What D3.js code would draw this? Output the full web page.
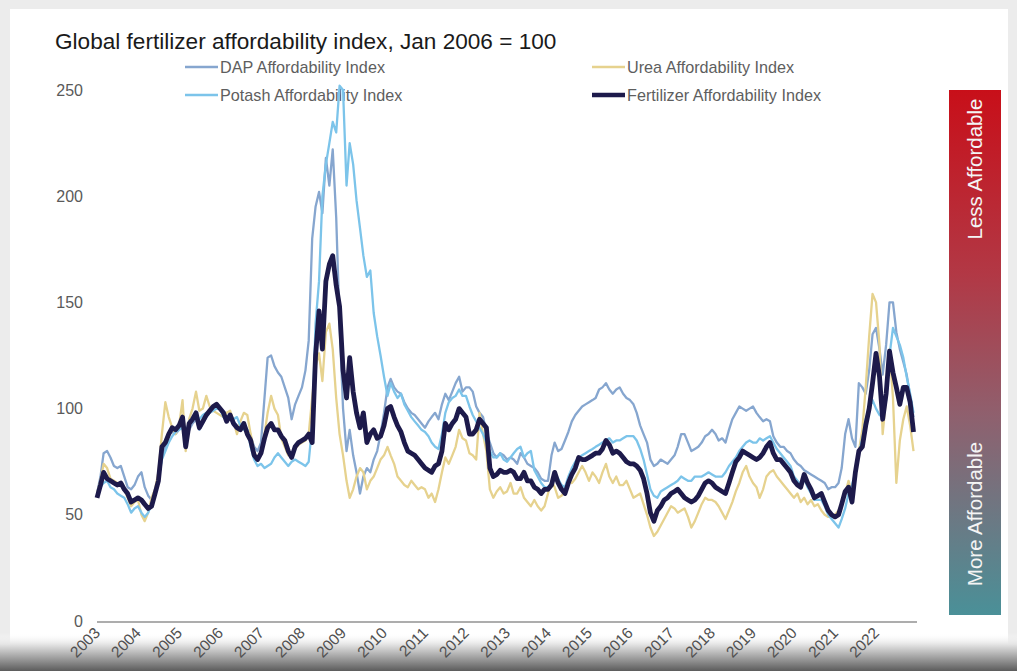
<!DOCTYPE html>
<html>
<head>
<meta charset="utf-8">
<script src="https://cdn.jsdelivr.net/npm/d3@7"></script>
<style>
  body { margin: 0; background: #ececec; }
  svg text { font-family: "Liberation Sans", Arial, sans-serif; }
</style>
</head>
<body>
<svg id="chart" width="1017" height="671"></svg>
<script>
// monthly index values, Jan 2003 .. Dec 2022
var yearLabels = ["2003","2004","2005","2006","2007","2008","2009","2010","2011","2012",
                  "2013","2014","2015","2016","2017","2018","2019","2020","2021","2022"];

var dapIndex = [
  60,68,79,80,77,73,72,73,68,63,62,64,
  68,70,63,59,57,62,66,77,82,88,89,88,
  90,92,84,90,93,95,90,93,96,98,100,100,
  100,97,95,96,94,92,91,93,90,87,82,80,
  84,105,124,125,120,117,115,110,105,95,102,106,
  110,118,132,180,195,202,192,218,205,222,190,140,
  100,80,90,78,70,60,68,72,70,76,80,88,
  98,110,114,110,108,107,103,100,98,97,95,93,
  91,94,96,98,95,102,107,104,108,112,115,108,
  110,110,108,101,98,96,89,84,79,77,79,78,
  76,77,76,74,79,77,74,73,72,70,67,66,
  66,78,84,80,81,85,89,94,97,99,101,102,
  103,104,105,109,110,112,109,107,109,110,107,105,
  104,102,98,92,88,84,76,73,74,76,75,74,
  76,78,82,88,88,84,80,81,82,84,87,88,
  90,88,85,86,84,90,95,98,101,100,99,100,
  101,98,96,94,95,94,87,84,82,82,80,79,
  76,74,73,71,70,69,68,67,66,65,62,63,
  63,65,72,88,95,86,82,112,110,107,118,135,
  138,128,116,130,150,150,136,128,122,116,106,96
];

var ureaIndex = [
  60,66,74,72,67,66,65,64,62,58,54,56,
  57,50,47,51,58,62,70,88,103,96,91,88,
  92,104,80,95,100,108,99,100,106,101,99,98,
  97,96,98,99,94,88,94,98,97,88,80,76,
  80,88,98,106,100,97,86,82,78,78,81,83,
  84,85,88,105,120,126,113,136,140,128,105,88,
  78,66,58,62,68,72,70,62,66,68,72,76,
  78,82,78,74,68,66,64,63,66,64,62,63,
  62,58,60,56,62,70,77,74,78,82,90,86,
  85,79,78,76,98,88,80,62,58,61,63,60,
  61,65,60,60,63,58,56,54,57,54,52,54,
  60,66,63,58,59,61,66,65,67,70,73,70,
  66,70,68,65,70,74,68,65,68,64,64,66,
  62,58,59,60,55,50,44,40,42,45,48,51,
  54,53,51,52,53,49,44,47,51,55,58,57,
  57,56,54,51,48,52,56,61,65,70,73,68,
  65,63,58,62,68,70,71,68,66,64,62,60,
  58,60,56,58,55,57,54,55,52,50,49,50,
  50,52,55,60,66,60,72,80,90,110,134,154,
  150,130,88,105,128,105,65,85,95,101,92,80
];

var potashIndex = [
  60,63,65,66,63,62,60,59,58,55,51,53,
  54,51,49,51,55,60,66,76,80,84,87,89,
  90,91,88,94,95,96,95,97,98,98,99,100,
  100,96,95,95,95,96,92,90,90,82,76,73,
  74,72,73,74,77,79,77,75,73,75,76,75,
  74,73,75,92,140,160,200,215,225,235,230,252,
  250,205,225,215,198,185,172,162,165,145,134,125,
  115,106,112,108,105,107,102,99,96,94,92,90,
  89,87,84,82,81,88,98,103,105,106,109,106,
  106,101,97,94,91,88,84,80,77,77,79,76,
  75,77,79,81,82,77,79,80,71,68,65,63,
  63,65,70,67,64,63,68,72,75,77,78,79,
  80,81,82,83,84,85,86,84,85,85,86,87,
  87,87,85,81,76,69,62,59,58,61,62,63,
  64,65,66,68,67,66,66,68,68,68,69,70,
  69,68,68,68,70,73,75,77,80,82,84,85,
  84,84,86,85,86,87,84,81,79,77,75,73,
  68,66,64,67,63,60,57,57,57,54,50,48,
  46,44,48,53,60,64,70,79,86,95,100,104,
  100,97,96,104,125,138,134,130,124,115,107,98
];

var fertIndex = [
  58,64,70,67,66,65,64,65,62,60,56,57,
  58,57,55,53,54,60,66,82,84,88,91,90,
  92,96,82,93,95,98,91,94,97,99,101,102,
  100,98,94,97,93,91,90,93,88,85,78,76,
  79,86,91,93,90,90,87,85,80,77,82,84,
  85,86,88,84,125,146,128,160,168,172,158,148,
  118,105,124,108,98,91,98,84,88,90,86,87,
  92,100,101,96,92,89,84,80,79,78,76,74,
  72,71,70,73,74,80,93,90,93,95,100,98,
  96,88,88,90,95,93,91,72,68,69,71,70,
  70,71,70,67,67,70,66,66,63,62,60,62,
  62,64,70,65,62,60,65,69,72,77,76,76,
  77,78,79,79,81,85,83,79,80,79,77,75,
  74,74,73,71,67,60,51,47,52,54,57,58,
  60,61,62,60,58,57,56,57,59,62,65,66,
  65,63,62,61,60,65,70,75,77,80,79,78,
  77,76,77,79,82,84,79,76,76,74,72,70,
  66,64,63,69,65,62,58,59,60,56,52,50,
  49,50,55,61,63,56,70,80,82,92,100,112,
  126,115,95,107,127,117,110,102,110,110,103,89
];

var yTicks = [0, 50, 100, 150, 200, 250];

// series in drawing order (legend is laid out row by row)
var seriesNames = ["DAP Affordability Index", "Urea Affordability Index",
                   "Potash Affordability Index", "Fertilizer Affordability Index"];
var seriesColors = ["#86a6cf", "#e6d28e", "#7cc4ea", "#1d1a4b"];
var seriesWidths = [2.3, 2.3, 2.3, 4.8];

var months = d3.range(dapIndex.length).map(function(i){ return new Date(2003, i, 1); });

var width = 1017, height = 671;
var svg = d3.select("#chart");

var x = d3.scaleTime()
    .domain([new Date(2003, 0, 1), new Date(2023, 0, 1)])
    .range([97, 917]);

var y = d3.scaleLinear()
    .domain([0, 250])
    .range([621, 90]);

var defs = svg.append("defs");

var barGrad = defs.append("linearGradient")
    .attr("id", "barGrad").attr("x1", 0).attr("y1", 0).attr("x2", 0).attr("y2", 1);
barGrad.append("stop").attr("offset", "0%").attr("stop-color", "#c80f19");
barGrad.append("stop").attr("offset", "35%").attr("stop-color", "#b23845");
barGrad.append("stop").attr("offset", "62%").attr("stop-color", "#8f606e");
barGrad.append("stop").attr("offset", "100%").attr("stop-color", "#4a9098");

var shade = defs.append("linearGradient")
    .attr("id", "shade").attr("x1", 0).attr("y1", 0).attr("x2", 0).attr("y2", 1);
shade.append("stop").attr("offset", "0%").attr("stop-color", "#ffffff").attr("stop-opacity", 0);
shade.append("stop").attr("offset", "30%").attr("stop-color", "#e4e4e4").attr("stop-opacity", 1);
shade.append("stop").attr("offset", "100%").attr("stop-color", "#5c5c5c").attr("stop-opacity", 1);

// card
svg.append("rect").attr("x", 0).attr("y", 0).attr("width", width).attr("height", height).attr("fill", "#ececec");
svg.append("rect").attr("x", 10).attr("y", 9).attr("width", 998).attr("height", height - 9).attr("fill", "#ffffff");

draw();

function draw() {
  // title
  svg.append("text")
     .attr("x", 55).attr("y", 49)
     .attr("font-size", 22.6)
     .attr("fill", "#1a1a1a")
     .text("Global fertilizer affordability index, Jan 2006 = 100");

  // legend, two rows x two columns
  var legX = [185, 592], legY = [67, 95];
  seriesNames.forEach(function(name, i){
    var lx = legX[i % 2], ly = legY[Math.floor(i / 2)];
    svg.append("line")
       .attr("x1", lx).attr("x2", lx + 33).attr("y1", ly).attr("y2", ly)
       .attr("stroke", seriesColors[i])
       .attr("stroke-width", i == 3 ? 4.5 : 2.5);
    svg.append("text")
       .attr("x", lx + 35).attr("y", ly + 5.5)
       .attr("font-size", 16.2)
       .attr("fill", "#5e5e5e")
       .text(name);
  });

  // y tick labels (no axis line or grid in the original)
  svg.selectAll(".ytick").data(yTicks).enter().append("text")
     .attr("class", "ytick")
     .attr("x", 83)
     .attr("y", function(d){ return y(d) + 5.5; })
     .attr("text-anchor", "end")
     .attr("font-size", 16)
     .attr("fill", "#5a5a5a")
     .text(function(d){ return d; });

  // bottom photo shading, under the tick labels
  svg.append("rect").attr("x", 0).attr("y", 633).attr("width", width).attr("height", 38)
     .attr("fill", "url(#shade)");

  // x axis line
  svg.append("line")
     .attr("x1", x.range()[0]).attr("x2", x.range()[1])
     .attr("y1", y(0) + 1).attr("y2", y(0) + 1)
     .attr("stroke", "#adadad").attr("stroke-width", 2);

  svg.selectAll(".xtick").data(yearLabels).enter().append("text")
     .attr("class", "xtick")
     .attr("transform", function(d){
        var tx = x(new Date(+d, 0, 1)) + 4;
        return "translate(" + tx + ",634) rotate(-45)";
     })
     .attr("text-anchor", "end")
     .attr("font-size", 15.5)
     .attr("fill", "#505050")
     .text(function(d){ return d; });

  // lines
  var series = [dapIndex, ureaIndex, potashIndex, fertIndex];
  var line = d3.line()
      .x(function(d, i){ return x(months[i]); })
      .y(function(d){ return y(d); });

  svg.selectAll(".series").data(series).enter().append("path")
     .attr("class", "series")
     .attr("fill", "none")
     .attr("stroke", function(d, i){ return seriesColors[i]; })
     .attr("stroke-width", function(d, i){ return seriesWidths[i]; })
     .attr("stroke-linejoin", "round")
     .attr("d", line);

  // affordability colour bar
  svg.append("rect")
     .attr("x", 949).attr("y", 90).attr("width", 52).attr("height", 525)
     .attr("fill", "url(#barGrad)");

  svg.append("text")
     .attr("transform", "translate(982,169) rotate(-90)")
     .attr("text-anchor", "middle")
     .attr("font-size", 20.5)
     .attr("fill", "#f4f4f4")
     .text("Less Affordable");

  svg.append("text")
     .attr("transform", "translate(982,514) rotate(-90)")
     .attr("text-anchor", "middle")
     .attr("font-size", 20.5)
     .attr("fill", "#f4f4f4")
     .text("More Affordable");
}
</script>
</body>
</html>
